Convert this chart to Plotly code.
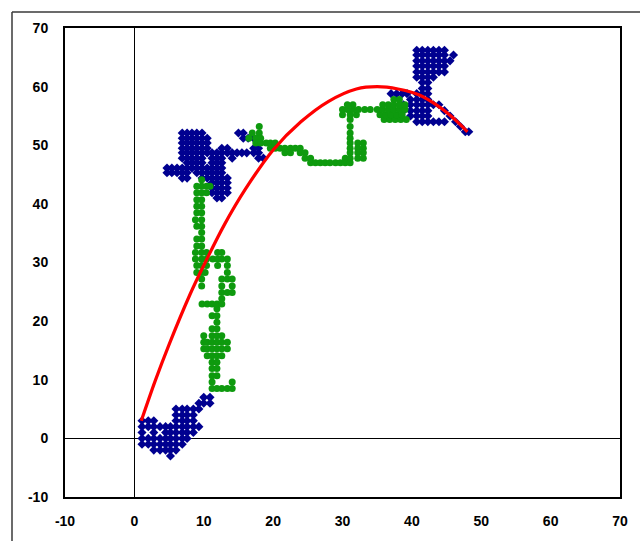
import plotly.graph_objects as go

# ---- data (rows: y -> list of x) ----
blue_rows = [
    # lower-left cluster
    (7.0, [10.0, 10.9]),
    (6.0, [9.3, 10.0, 10.9]),
    (5.0, [6.0, 6.9, 7.6, 8.5, 9.3]),
    (4.0, [6.0, 6.9, 7.6, 8.5]),
    (3.0, [1.1, 2.0, 2.8, 6.0, 6.9, 7.6, 8.5]),
    (2.0, [1.1, 2.0, 2.8, 3.7, 4.5, 5.2, 6.0, 6.9, 7.6, 8.5, 9.3]),
    (1.0, [1.1, 2.8, 4.5, 5.2, 6.0, 6.9, 7.6, 8.5]),
    (0.0, [1.1, 2.0, 2.8, 3.7, 4.5, 5.2, 6.0, 6.9, 7.6]),
    (-1.0, [1.1, 2.0, 2.8, 3.7, 4.5, 5.2, 6.0, 6.9]),
    (-2.0, [2.8, 3.7, 4.5, 5.2, 6.0]),
    (-3.0, [5.2]),
    # upper-left cluster
    (52.1, [6.9, 7.6, 8.3, 9.0, 9.75, 15.0, 15.7]),
    (51.2, [6.9, 7.6, 8.3, 9.0, 9.75, 10.5, 15.7, 16.4, 17.2]),
    (50.4, [6.9, 7.6, 8.3, 9.0, 9.75, 10.5]),
    (49.5, [6.9, 7.6, 8.3, 9.0, 9.75, 10.5, 12.6, 13.4, 17.2, 17.9]),
    (48.7, [6.9, 7.6, 8.3, 9.0, 9.75, 10.5, 11.2, 11.9, 12.6, 13.4, 14.1, 14.8, 15.5, 16.2, 17.2, 17.9]),
    (47.8, [6.9, 7.6, 8.3, 9.0, 9.75, 11.2, 11.9, 12.6, 14.1, 17.9, 18.6]),
    (47.0, [7.6, 8.3, 9.0, 9.75, 11.2, 11.9, 12.6]),
    (46.1, [4.7, 5.4, 6.15, 6.9, 7.6, 8.3, 9.0, 9.75, 10.5, 11.2, 11.9, 12.6]),
    (45.3, [4.7, 5.4, 6.15, 6.9, 7.6, 9.0, 9.75, 10.5, 11.2, 11.9, 12.6]),
    (44.4, [6.9, 7.6, 9.75, 10.5, 11.2, 11.9, 12.6, 13.4]),
    (43.6, [11.2, 11.9, 12.6, 13.4]),
    (42.7, [11.2, 11.9, 12.6, 13.4]),
    (41.9, [11.2, 11.9, 12.6, 13.4]),
    (41.0, [11.9, 12.6]),
    # upper-right cluster
    (66.2, [40.7, 41.5, 42.3, 43.1, 43.9, 44.7]),
    (65.4, [40.7, 41.5, 42.3, 43.1, 43.9, 44.7, 46.0]),
    (64.4, [40.7, 41.5, 42.3, 43.1, 43.9, 44.7, 45.5]),
    (63.5, [40.7, 41.5, 42.3, 43.1, 43.9, 44.7]),
    (62.5, [40.7, 41.5, 42.3, 43.1, 43.9, 44.7]),
    (61.6, [40.7, 41.5, 42.3, 43.1]),
    (60.7, [41.5, 42.3]),
    (59.7, [41.5, 42.3]),
    (58.8, [37.0, 37.8, 38.6, 39.3, 40.7, 41.5, 42.3]),
    (57.8, [39.8, 40.7, 41.5, 42.3]),
    (56.9, [38.8, 39.8, 40.7, 41.5, 42.3, 43.1, 43.9]),
    (55.9, [38.8, 39.8, 40.7, 41.5, 42.3, 44.7]),
    (55.0, [39.8, 40.7, 41.5, 42.3, 45.5]),
    (54.0, [40.7, 41.5, 42.3, 43.1, 43.9, 44.7, 46.3]),
    (53.2, [47.0]),
    (52.3, [47.7, 48.2]),
]

green_rows = [
    (8.5, [11.2, 11.9, 12.6, 13.4, 14.1]),
    (9.6, [11.2, 14.1]),
    (10.7, [11.2, 11.9]),
    (11.9, [11.2, 11.9]),
    (13.0, [11.2, 11.9]),
    (14.1, [10.5, 11.2, 11.9, 12.6]),
    (15.3, [10.0, 10.5, 11.2, 11.9, 12.6, 13.4]),
    (16.4, [10.0, 10.5, 11.2, 11.9, 12.6, 13.4]),
    (17.5, [10.0, 11.2, 11.9, 12.6]),
    (18.7, [11.2, 11.9]),
    (19.8, [11.9]),
    (20.9, [11.2, 11.9]),
    (22.1, [11.9]),
    (22.9, [9.75, 10.5, 11.2, 11.9, 12.6]),
    (23.8, [12.6]),
    (24.9, [12.6, 13.4, 14.1]),
    (26.0, [9.7, 12.6, 14.1]),
    (27.2, [9.7, 12.6, 13.4, 14.1]),
    (28.3, [9.0, 9.7, 10.2, 13.4]),
    (29.5, [9.0, 9.7, 10.4, 12.0, 13.4]),
    (30.6, [8.8, 9.7, 10.4, 11.3, 12.0, 12.6, 13.4]),
    (31.7, [8.8, 9.7, 10.4, 12.0, 12.6]),
    (32.8, [9.0, 9.7]),
    (34.0, [9.0, 9.7]),
    (35.1, [9.7]),
    (36.2, [9.0, 9.7]),
    (37.3, [8.8, 9.7]),
    (38.5, [9.0, 9.7]),
    (39.6, [9.0, 9.7]),
    (40.7, [9.0, 9.7]),
    (41.9, [9.0, 9.7, 10.4]),
    (43.0, [9.0, 9.7, 10.4, 10.9]),
    (44.1, [9.7]),
    # upper part
    (53.2, [18.0]),
    (52.1, [17.0, 18.0]),
    (51.2, [16.5, 17.5, 18.2]),
    (50.4, [17.5, 18.2, 19.0, 19.6, 20.3, 31.1, 32.2, 33.0]),
    (49.5, [19.6, 20.3, 21.0, 21.7, 22.5, 23.2, 23.9, 31.1, 32.2, 33.0]),
    (48.7, [21.7, 22.5, 23.9, 24.6, 31.1, 32.2, 33.0]),
    (47.8, [24.6, 25.4, 30.4, 31.1, 32.2, 33.0]),
    (47.0, [25.4, 26.1, 26.8, 27.5, 28.2, 29.0, 29.7, 30.4, 31.1]),
    (51.2, [31.1]),
    (52.1, [31.1]),
    (53.2, [31.1]),
    (54.4, [31.1, 36.0, 36.8, 37.6, 38.4, 39.2]),
    (55.2, [30.0, 31.1, 32.0, 35.4, 36.2, 37.0, 37.8, 38.6]),
    (56.1, [30.0, 30.7, 31.5, 32.3, 33.2, 34.0, 35.0, 35.8, 36.6, 37.4, 38.2, 39.0]),
    (56.9, [30.7, 31.5, 35.8, 36.6, 37.4, 38.2, 39.0]),
    (57.8, [37.4, 38.2]),
]

curve_x = [1, 3, 5, 8, 10, 13, 16, 20, 24, 28, 32, 35, 38, 41, 44, 46, 48]
curve_y = [3.0, 9.8, 16.0, 24.5, 29.5, 36.5, 42.5, 49.2, 54.0, 57.5, 59.6, 60.0, 59.6, 58.6, 56.5, 54.6, 52.3]

x_ticks = [-10, 0, 10, 20, 30, 40, 50, 60, 70]
y_ticks = [-10, 0, 10, 20, 30, 40, 50, 60, 70]


def flatten(rows):
    xs, ys = [], []
    for yv, xlist in rows:
        for xv in xlist:
            xs.append(xv)
            ys.append(yv)
    return xs, ys


bx, by = flatten(blue_rows)
gx, gy = flatten(green_rows)

fig = go.Figure()
fig.add_trace(go.Scatter(x=bx, y=by, mode="markers",
                         marker=dict(symbol="diamond", size=7, color="#000090",
                                     line=dict(width=0)),
                         showlegend=False, hoverinfo="skip"))
fig.add_trace(go.Scatter(x=gx, y=gy, mode="markers",
                         marker=dict(symbol="circle", size=7, color="#0E9A0E",
                                     line=dict(width=0)),
                         showlegend=False, hoverinfo="skip"))
fig.add_trace(go.Scatter(x=curve_x, y=curve_y, mode="lines",
                         line=dict(color="#FF0000", width=3.2, shape="spline"),
                         showlegend=False, hoverinfo="skip"))

axis_common = dict(
    showgrid=False, zeroline=True, zerolinecolor="#000000", zerolinewidth=1,
    showline=True, linecolor="#000000", linewidth=2, mirror=True,
    ticks="", tickfont=dict(family="Liberation Sans, Arial", size=14, color="#000000"),
    fixedrange=True,
)

fig.update_layout(
    width=640, height=541,
    margin=dict(l=65, r=20, t=28, b=42),
    paper_bgcolor="#FFFFFF", plot_bgcolor="#FFFFFF",
    xaxis=dict(range=[-10, 70], tickvals=x_ticks,
               ticktext=[f"<b>{v}</b>" for v in x_ticks],
               ticklabelstandoff=10, **axis_common),
    yaxis=dict(range=[-10, 70], tickvals=y_ticks,
               ticktext=[f"<b>{v}</b>" for v in y_ticks],
               ticklabelstandoff=12, **axis_common),
    shapes=[
        dict(type="line", xref="paper", yref="paper",
             x0=(12 - 65) / 555, x1=(12 - 65) / 555,
             y0=(499 - 12) / 471, y1=(499 - 560) / 471,
             line=dict(color="#3a3a3a", width=1.5)),
        dict(type="line", xref="paper", yref="paper",
             x0=(12 - 65) / 555, x1=(660 - 65) / 555,
             y0=(499 - 12) / 471, y1=(499 - 12) / 471,
             line=dict(color="#3a3a3a", width=1.5)),
    ],
)

fig.write_html("out.html")
